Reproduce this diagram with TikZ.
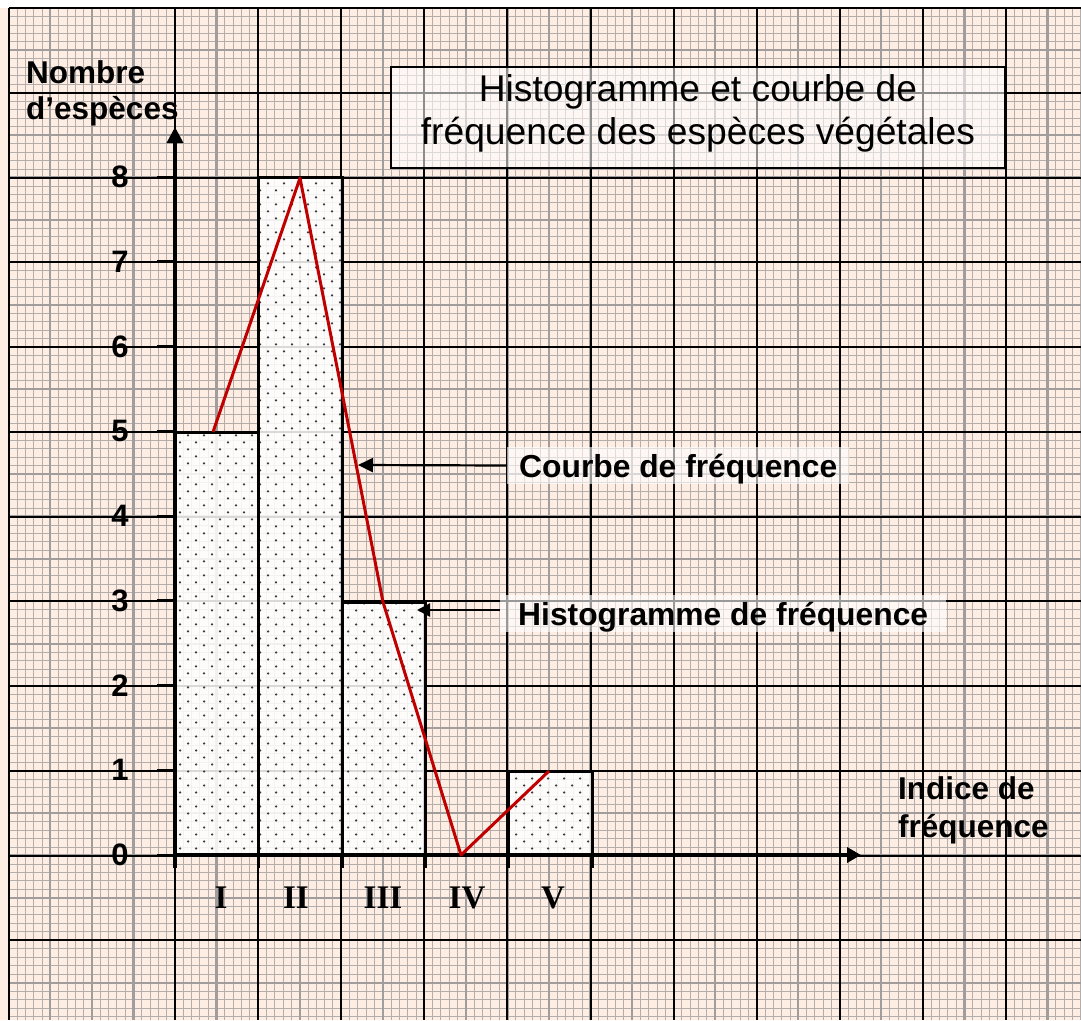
\documentclass[tikz,border=0pt]{standalone}
\usepackage{fontspec}
\setmainfont{Liberation Sans}
\newfontfamily\romanfont{Liberation Serif}
\usetikzlibrary{arrows.meta,patterns}
\pgfdeclarepatternformonly{bardots}{\pgfqpoint{-2pt}{-2pt}}{\pgfqpoint{18pt}{16pt}}{\pgfqpoint{16pt}{14pt}}{%
  \pgfpathcircle{\pgfqpoint{4pt}{3.5pt}}{1.25pt}%
  \pgfpathcircle{\pgfqpoint{12pt}{10.5pt}}{1.25pt}%
  \pgfusepath{fill}}
\definecolor{paper}{HTML}{FDEDE3}
\definecolor{fineg}{HTML}{B3AEAB}
\definecolor{medg}{HTML}{A09D9C}
\definecolor{curvered}{HTML}{C00000}
\definecolor{dotg}{HTML}{3A3A3A}
\begin{document}
\begin{tikzpicture}[x=1pt,y=-1pt,
  fineline/.style={fineg, line width=0.9pt},
  medline/.style={medg, line width=2.2pt},
  majline/.style={black, line width=2pt},
  barout/.style={black, line width=3pt},
  axisline/.style={black, line width=3.5pt},
  tickline/.style={black, line width=3pt},
  freqline/.style={curvered, line width=3pt, line join=round},
  pointer/.style={black, line width=2.2pt, -{Triangle[length=15pt,width=14pt]}},
  boldlbl/.style={font=\bfseries\fontsize{31.5}{36}\selectfont, inner sep=0pt},
  numlbl/.style={font=\bfseries\fontsize{31}{36}\selectfont, inner sep=0pt},
  romlbl/.style={font=\romanfont\bfseries\fontsize{33}{38}\selectfont, inner sep=0pt},
  titlelbl/.style={font=\fontsize{37.2}{43}\selectfont, inner sep=0pt},
  tagbox/.style={fill=white, fill opacity=0.6, text opacity=1, font=\bfseries\fontsize{31.8}{36}\selectfont, text height=23pt, text depth=0pt, inner ysep=7pt}
]
\useasboundingbox (0,0) rectangle (1081,1020);
\clip (0,0) rectangle (1081,1020);
\fill[white] (0,0) rectangle (1081,1020);
\fill[paper] (0,8) rectangle (1081,1020);
% fine grid
\foreach \j in {0,...,120} \draw[fineline] (8.8,{8+\j*8.475}) -- (1081,{8+\j*8.475});
\foreach \i in {0,...,129} \draw[fineline] ({8.8+\i*8.31},8) -- ({8.8+\i*8.31},1020);
% medium grid
\foreach \j in {1,...,24} \draw[medline] (8.8,{8+\j*42.375}) -- (1081,{8+\j*42.375});
\foreach \i in {1,...,25} \draw[medline] ({8.8+\i*41.55},8) -- ({8.8+\i*41.55},1020);
% major grid
\foreach \j in {0,...,12} \draw[majline] (8.8,{8+\j*84.75}) -- (1081,{8+\j*84.75});
\foreach \k in {0,2,3,4,5,6,7,8,9,10,11,12} \draw[majline] ({8.8+\k*83.1},8) -- ({8.8+\k*83.1},1020);

% bars
\foreach \xa/\xb/\yt in {175/258/432, 258/342/177, 342/425/602, 508/592/771}{
  \fill[white, fill opacity=0.85] (\xa,\yt) rectangle (\xb,855);
  \fill[pattern=bardots, pattern color=dotg] (\xa,\yt) rectangle (\xb,855);
  \draw[barout] (\xa,855) -- (\xa,\yt) -- (\xb,\yt) -- (\xb,855);
}

% axes
\coordinate (ybot) at (175,868);
\coordinate (ytip) at (175,127);
\coordinate (xorg) at (175,855);
\coordinate (xtip) at (861,855);
\draw[axisline, -{Triangle[length=16pt,width=16pt]}] (ybot) -- (ytip);
\draw[axisline, -{Triangle[length=14pt,width=15pt]}] (xorg) -- (xtip);
\foreach \k in {0,...,8} \draw[tickline] (157,{855-\k*84.75}) -- (175,{855-\k*84.75});
\foreach \x in {258,342,425,508,592} \draw[tickline] (\x,855) -- (\x,868);

% y labels
\foreach \k in {0,...,8} \node[numlbl] (n\k) at (120,{855-\k*84.75}) {\k};

% x labels
\node[romlbl] (r1) at (221,898) {I};
\node[romlbl] (r2) at (296,898) {II};
\node[romlbl] (r3) at (383,898) {III};
\node[romlbl] (r4) at (467,898) {IV};
\node[romlbl] (r5) at (553,898) {V};

% axis titles
\node[boldlbl, anchor=base west] (ya1) at (26,83) {Nombre};
\node[boldlbl, anchor=base west] (ya2) at (26,119) {d’espèces};
\node[boldlbl, anchor=base west] (xa1) at (898,799) {Indice de};
\node[boldlbl, anchor=base west] (xa2) at (898,837) {fréquence};

% frequency curve
\coordinate (p1) at (213,432);
\coordinate (p2) at (300,178);
\coordinate (p3) at (383,602);
\coordinate (p4) at (461,855);
\coordinate (p5) at (549,771);
\draw[freqline] (p1) -- (p2) -- (p3) -- (p4) -- (p5);

% title
\node[draw=black, line width=1.2pt, fill=white, fill opacity=0.55, minimum width=614pt, minimum height=101pt, inner sep=0pt] (titlebox) at (698,117.5) {};
\node[titlelbl, anchor=base] (t1) at (698,101) {Histogramme et courbe de};
\node[titlelbl, anchor=base] (t2) at (698,144) {fréquence des espèces végétales};

% pointer labels
\coordinate (cTip) at (358,465);
\coordinate (hTip) at (417,610);
\node[tagbox, anchor=west, inner xsep=12pt] (courbe) at (507,465.5) {Courbe de fréquence};
\node[tagbox, anchor=west, inner xsep=18pt] (histo) at (500,613.5) {Histogramme de fréquence};
\draw[pointer] (courbe.west) -- (cTip);
\draw[pointer, -{Triangle[length=13pt,width=13pt]}] (histo.west |- hTip) -- (hTip);
\end{tikzpicture}
\end{document}
